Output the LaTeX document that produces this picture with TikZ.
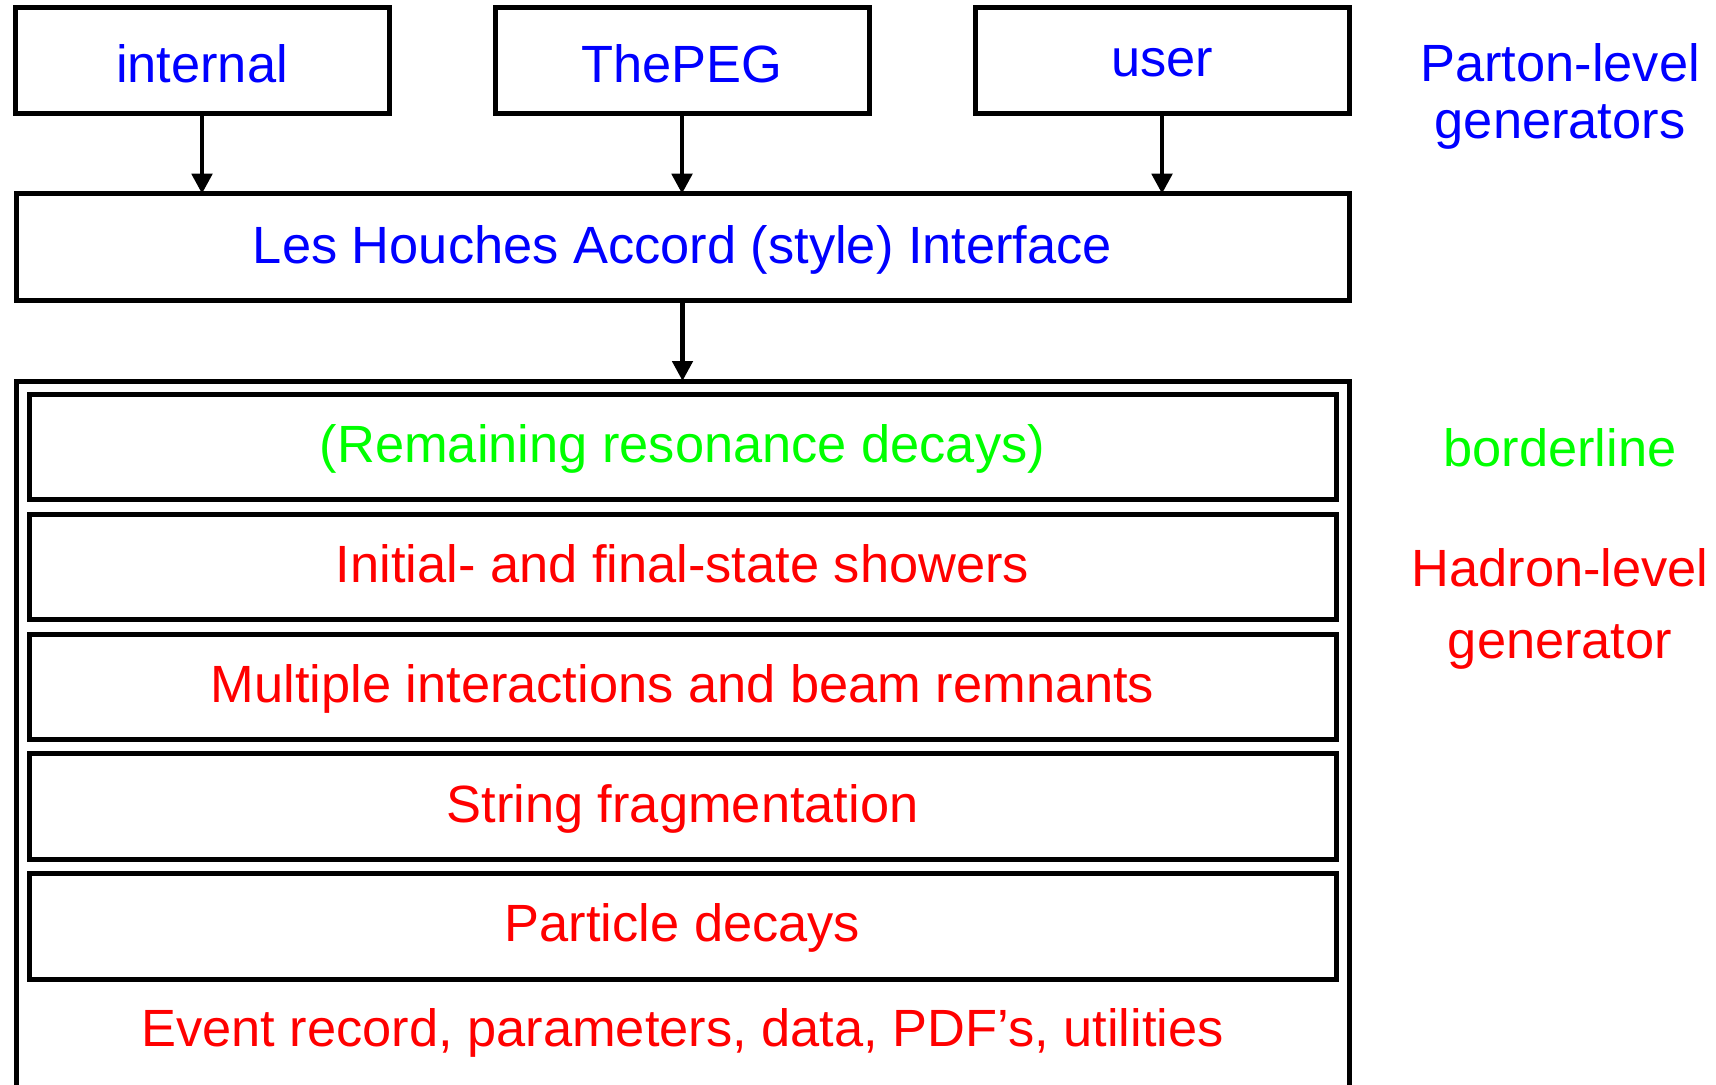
\documentclass[tikz,border=0pt]{standalone}
\usepackage{fontspec}
\setmainfont{Liberation Sans}
\usetikzlibrary{arrows.meta}
\definecolor{pblue}{RGB}{0,0,255}
\definecolor{bgreen}{RGB}{0,255,0}
\definecolor{hred}{RGB}{255,0,0}
\begin{document}
\begin{tikzpicture}[x=0.5pt,y=0.5pt,yscale=-1,
	every node/.style={font=\fontsize{26.2}{31}\selectfont},
	frame/.style={draw,line width=2.5pt,inner sep=0pt,outer sep=0pt,text height=15.5pt,text depth=0pt},
	topbox/.style={frame,minimum width=187pt,minimum height=53.25pt,text=pblue,text height=22pt},
	lhabox/.style={frame,minimum width=666.5pt,minimum height=53.25pt,text=pblue,text height=16.5pt},
	stepbox/.style={frame,minimum width=653.5pt,minimum height=52.75pt,text=hred},
	feed/.style={line width=2.4pt,-{Triangle[length=10pt,width=10pt]}},
	side/.style={anchor=base}]
	\useasboundingbox (0,0) rectangle (1716,1085);
	\clip (0,0) rectangle (1716,1085);
	
	% Parton-level boxes
	\node[topbox] (internal) at (202,60.75) {internal};
	\node[topbox] (thepeg) at (682,60.75) {ThePEG};
	\node[topbox,text height=16pt] (user) at (1162,60.75) {user};
	% Les Houches interface
	\node[lhabox] (lha) at (682.5,247) {Les Houches Accord (style) Interface};
	% Hadron-level frame, open at the bottom
	\node[frame,minimum width=666.5pt,minimum height=364.5pt] (hlev) at (682.5,745.5) {};
	
	% Steps inside the frame
	\node[stepbox,text=bgreen] (reson) at (682.5,447.2) {(Remaining resonance decays)};
	\node[stepbox] (shower) at (682.5,567) {Initial- and final-state showers};
	\node[stepbox] (multi) at (682.5,686.8) {Multiple interactions and beam remnants};
	\node[stepbox] (frag) at (682.5,806.6) {String fragmentation};
	\node[stepbox] (pdecay) at (682.5,926.4) {Particle decays};
	% Text Node
	\node[side,text=hred] (evrec) at (682.5,1046.7) {Event record, parameters, data, PDF’s, utilities};
	
	% Arrows
	\draw[feed] (internal.south) -- (internal.south |- lha.north);
	\draw[feed] (thepeg.south) -- (thepeg.south |- lha.north);
	\draw[feed] (user.south) -- (user.south |- lha.north);
	\draw[feed] (lha.south) -- (lha.south |- hlev.north);
	
	% Side labels
	\node[side,text=pblue] (plev) at (1560,81.7) {Parton-level};
	\node[side,text=pblue] (pgen) at (1560,138.3) {generators};
	\node[side,text=bgreen] (bord) at (1560,466) {borderline};
	\node[side,text=hred] (hlevtxt) at (1560,586.7) {Hadron-level};
	\node[side,text=hred] (hgen) at (1560,658.3) {generator};
\end{tikzpicture}
\end{document}
